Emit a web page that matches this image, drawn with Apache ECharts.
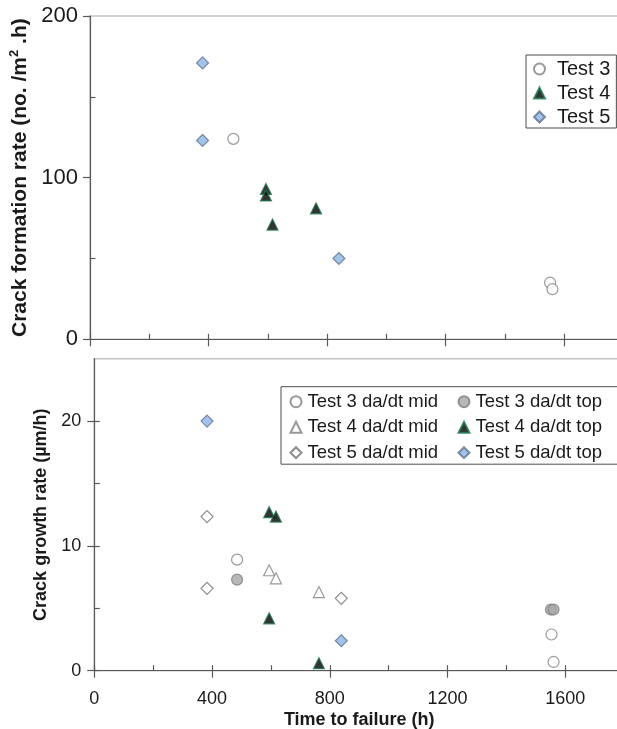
<!DOCTYPE html>
<html>
<head>
<meta charset="utf-8">
<script src="https://cdn.jsdelivr.net/npm/echarts@6/dist/echarts.min.js"></script>
<style>
  html, body { margin: 0; padding: 0; background: #fff; }
  #chart { width: 617px; height: 729px; }
</style>
</head>
<body>
<div id="chart"></div>
<script>
// Crack formation rate (no./m2.h) vs time to failure (h)
const test3Rate = [[484, 124], [1553, 35], [1561, 31]];
const test4Rate = [[594, 93], [594, 89], [616, 71], [763, 81]];
const test5Rate = [[380, 171], [380, 123], [840, 50]];

// Crack growth rate (um/h) vs time to failure (h)
const test3Mid = [[485, 8.9], [1553, 2.9], [1560, 0.7]];
const test3Top = [[485, 7.3], [1551, 4.9], [1560, 4.9]];
const test4Mid = [[594, 8.05], [617, 7.4], [763, 6.3]];
const test4Top = [[594, 12.7], [617, 12.35], [594, 4.2], [763, 0.6]];
const test5Mid = [[383, 12.35], [383, 6.6], [839, 5.8]];
const test5Top = [[383, 20], [839, 2.4]];

// Axis ranges and tick positions
const timeRange = [0, 1800];
const timeMajor = [0, 400, 800, 1200, 1600];
const timeInner = [0, 200, 400, 600, 800, 1000, 1200, 1400, 1600];
const rateRange = [0, 200];
const rateMajor = [0, 100, 200];
const rateMinor = [50, 150];
const growthRange = [0, 25];
const growthMajor = [0, 10, 20];
const growthInner = [0, 5, 10, 15, 20];

const AXIS = '#595959';
const TXT = '#1a1a1a';
const FONT = '"Liberation Sans", Arial, sans-serif';

const styles = {
  openCircle: { color: '#ffffff', borderColor: '#7f7f7f', borderWidth: 1.2 },
  greyCircle: { color: '#a6a6a6', borderColor: '#7f7f7f', borderWidth: 1.2 },
  openTri: { color: '#ffffff', borderColor: '#7f7f7f', borderWidth: 1.2 },
  blackTri: { color: '#000000', borderColor: '#1f7a4d', borderWidth: 1.2 },
  openDiamond: { color: '#ffffff', borderColor: '#6f6f6f', borderWidth: 1.2 },
  blueDiamond: { color: '#8db4e2', borderColor: '#5f7391', borderWidth: 1.2 }
};
const tickLine = { color: AXIS, width: 1.2 };

// outward ticks, axis line, labels
function mainAxis(kind, gridIndex, range, major, label, name, nameGap, nameStyle) {
  return {
    type: 'value', gridIndex, position: kind === 'x' ? 'bottom' : 'left',
    min: range[0], max: range[1],
    splitLine: { show: false },
    axisLine: { lineStyle: { color: AXIS, width: 1.2 } },
    axisTick: { show: true, inside: false, length: 7, customValues: major, lineStyle: tickLine },
    axisLabel: label ? Object.assign({ show: true, customValues: major, color: TXT, fontFamily: FONT,
      formatter: v => String(v) }, label) : { show: false },
    name: name || '',
    nameLocation: 'middle', nameGap: nameGap || 0,
    nameTextStyle: nameStyle || {}
  };
}
// inward ticks only
function innerAxis(kind, gridIndex, range, values) {
  return {
    type: 'value', gridIndex, position: kind === 'x' ? 'bottom' : 'left',
    min: range[0], max: range[1],
    splitLine: { show: false },
    axisLine: { show: false },
    axisLabel: { show: false },
    axisTick: { show: true, inside: true, length: 5.5, customValues: values, lineStyle: tickLine }
  };
}

const option = {
  animation: false,
  backgroundColor: '#ffffff',
  textStyle: { fontFamily: FONT },
  grid: [
    { left: 90, top: 16, width: 533.25, height: 323.3, outerBoundsMode: 'none', containLabel: false,
      show: true, borderColor: '#c4c4c4', borderWidth: 1.5 },
    { left: 94.3, top: 358.7, width: 529.9, height: 312, outerBoundsMode: 'none', containLabel: false,
      show: true, borderColor: '#c4c4c4', borderWidth: 1.5 }
  ],
  xAxis: [
    mainAxis('x', 0, timeRange, timeMajor, null),
    innerAxis('x', 0, timeRange, timeInner),
    mainAxis('x', 1, timeRange, timeMajor, { margin: 19, fontSize: 18 },
      'Time to failure (h)', 40,
      { fontSize: 18, fontWeight: 'bold', color: TXT, fontFamily: FONT }),
    innerAxis('x', 1, timeRange, timeInner)
  ],
  yAxis: [
    mainAxis('y', 0, rateRange, rateMajor, { margin: 12, fontSize: 22 },
      '{t|Crack formation rate (no. /m}{s|2}{t| .h)}', 55,
      {
        color: TXT,
        rich: {
          t: { fontSize: 21, fontWeight: 'bold', color: TXT, fontFamily: FONT },
          s: { fontSize: 13, fontWeight: 'bold', color: TXT, fontFamily: FONT, verticalAlign: 'top', padding: [0, 0, 10, 0] }
        }
      }),
    innerAxis('y', 0, rateRange, rateMinor),
    mainAxis('y', 1, growthRange, growthMajor, { margin: 13, fontSize: 18 },
      'Crack growth rate (µm/h)', 44,
      { fontSize: 18, fontWeight: 'bold', color: TXT, fontFamily: FONT }),
    innerAxis('y', 1, growthRange, growthInner)
  ],
  legend: [
    {
      data: ['Test 3', 'Test 4', 'Test 5'],
      orient: 'vertical', left: 526, top: 55,
      padding: [4, 6, 1, 7], itemGap: 4,
      itemWidth: 11, itemHeight: 11,
      borderColor: '#4d4d4d', borderWidth: 1, backgroundColor: '#ffffff',
      textStyle: { fontSize: 20, lineHeight: 20, color: TXT, fontFamily: FONT, padding: [0, 0, 0, 7] }
    },
    {
      data: ['Test 3 da/dt mid', 'Test 4 da/dt mid', 'Test 5 da/dt mid'],
      orient: 'vertical', left: 281, top: 386.7,
      padding: [5.5, 180, 2, 8.5], itemGap: 6.5,
      itemWidth: 11, itemHeight: 11,
      borderColor: '#4d4d4d', borderWidth: 1, backgroundColor: '#ffffff',
      textStyle: { fontSize: 18.5, lineHeight: 19, color: TXT, fontFamily: FONT, padding: [0, 0, 0, 1] }
    },
    {
      data: ['Test 3 da/dt top', 'Test 4 da/dt top', 'Test 5 da/dt top'],
      orient: 'vertical', left: 457.5, top: 392.2,
      padding: 0, itemGap: 6.5,
      itemWidth: 11, itemHeight: 11,
      textStyle: { fontSize: 18.5, lineHeight: 19, color: TXT, fontFamily: FONT, padding: [0, 0, 0, 1] }
    }
  ],
  series: [
    { name: 'Test 3', type: 'scatter', xAxisIndex: 0, yAxisIndex: 0, symbol: 'circle', symbolSize: 11, itemStyle: styles.openCircle, data: test3Rate },
    { name: 'Test 4', type: 'scatter', xAxisIndex: 0, yAxisIndex: 0, symbol: 'triangle', symbolSize: 11, itemStyle: styles.blackTri, data: test4Rate },
    { name: 'Test 5', type: 'scatter', xAxisIndex: 0, yAxisIndex: 0, symbol: 'diamond', symbolSize: 12, itemStyle: styles.blueDiamond, data: test5Rate },

    { name: 'Test 3 da/dt mid', type: 'scatter', xAxisIndex: 2, yAxisIndex: 2, symbol: 'circle', symbolSize: 11, itemStyle: styles.openCircle, data: test3Mid },
    { name: 'Test 3 da/dt top', type: 'scatter', xAxisIndex: 2, yAxisIndex: 2, symbol: 'circle', symbolSize: 11, itemStyle: styles.greyCircle, data: test3Top },
    { name: 'Test 4 da/dt mid', type: 'scatter', xAxisIndex: 2, yAxisIndex: 2, symbol: 'triangle', symbolSize: 11, itemStyle: styles.openTri, data: test4Mid },
    { name: 'Test 4 da/dt top', type: 'scatter', xAxisIndex: 2, yAxisIndex: 2, symbol: 'triangle', symbolSize: 11, itemStyle: styles.blackTri, data: test4Top },
    { name: 'Test 5 da/dt mid', type: 'scatter', xAxisIndex: 2, yAxisIndex: 2, symbol: 'diamond', symbolSize: 12, itemStyle: styles.openDiamond, data: test5Mid },
    { name: 'Test 5 da/dt top', type: 'scatter', xAxisIndex: 2, yAxisIndex: 2, symbol: 'diamond', symbolSize: 12, itemStyle: styles.blueDiamond, data: test5Top }
  ]
};

const chart = echarts.init(document.getElementById('chart'), null, { renderer: 'canvas' });
chart.setOption(option);
</script>
</body>
</html>
